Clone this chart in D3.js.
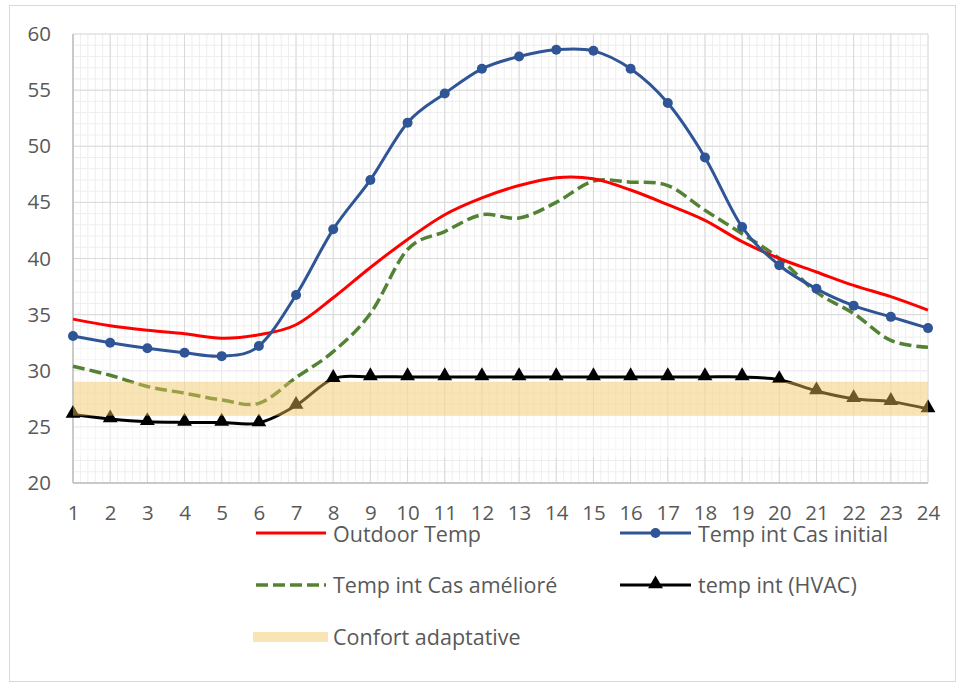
<!DOCTYPE html>
<html>
<head>
<meta charset="utf-8">
<script src="https://d3js.org/d3.v7.min.js"></script>
<style>
  body { margin: 0; background: #fff; }
  svg text { font-family: "Open Sans", Lato, sans-serif; fill: #595959; }
</style>
</head>
<body>
<svg id="chart" width="961" height="689"></svg>
<script>
// hours 1..24
var hours = d3.range(1, 25);
var outdoorTemp = [34.6, 34.0, 33.6, 33.3, 32.9, 33.2, 34.1, 36.5, 39.2, 41.7, 43.9, 45.4, 46.5, 47.2, 47.1, 46.1, 44.8, 43.4, 41.5, 40.0, 38.8, 37.6, 36.6, 35.4];
var casInitial = [33.1, 32.5, 32.0, 31.6, 31.3, 32.2, 36.75, 42.6, 47.0, 52.1, 54.7, 56.9, 58.0, 58.6, 58.5, 56.9, 53.85, 49.0, 42.8, 39.4, 37.3, 35.8, 34.8, 33.8];
var casAmeliore = [30.4, 29.6, 28.6, 28.0, 27.4, 27.1, 29.4, 31.7, 35.1, 40.8, 42.4, 43.9, 43.6, 45.0, 46.9, 46.8, 46.5, 44.3, 42.2, 40.0, 37.0, 35.1, 32.7, 32.1];
var hvac = [26.1, 25.7, 25.45, 25.4, 25.4, 25.35, 26.9, 29.3, 29.45, 29.45, 29.45, 29.45, 29.45, 29.45, 29.45, 29.45, 29.45, 29.45, 29.45, 29.2, 28.2, 27.5, 27.25, 26.6];
var confort = [26, 29];
var yTicks = [20, 25, 30, 35, 40, 45, 50, 55, 60];

var svg = d3.select("#chart");
var pLeft = 73, pRight = 928, pTop = 34, pBottom = 483;

var x = d3.scaleLinear().domain([1, 24]).range([pLeft, pRight]);
var y = d3.scaleLinear().domain([20, 60]).range([pBottom, pTop]);

// outer frame
svg.append("rect").attr("x", 9.5).attr("y", 5.5).attr("width", 946).attr("height", 676)
  .attr("fill", "#fff").attr("stroke", "#d9d9d9");

// minor grid
var g = svg.append("g");
g.selectAll(".vminor").data(d3.range(1, 24.01, 0.2)).enter().append("line")
  .attr("x1", d => x(d)).attr("x2", d => x(d)).attr("y1", pTop).attr("y2", pBottom)
  .attr("stroke", "#eeeeee").attr("stroke-width", 1);
g.selectAll(".hminor").data(d3.range(20, 61, 1)).enter().append("line")
  .attr("x1", pLeft).attr("x2", pRight).attr("y1", d => y(d)).attr("y2", d => y(d))
  .attr("stroke", "#eeeeee").attr("stroke-width", 1);
// major grid
g.selectAll(".vmajor").data(hours).enter().append("line")
  .attr("x1", d => x(d)).attr("x2", d => x(d)).attr("y1", pTop).attr("y2", pBottom)
  .attr("stroke", "#d9d9d9").attr("stroke-width", 1);
g.selectAll(".hmajor").data(yTicks).enter().append("line")
  .attr("x1", pLeft).attr("x2", pRight).attr("y1", d => y(d)).attr("y2", d => y(d))
  .attr("stroke", "#d9d9d9").attr("stroke-width", 1);

// faded zone around comfort band
svg.append("rect").attr("x", pLeft).attr("width", pRight - pLeft)
  .attr("y", y(32.5)).attr("height", y(22.3) - y(32.5))
  .attr("fill", "#fff").attr("opacity", 0.45);

// axis lines
svg.append("line").attr("x1", pLeft).attr("x2", pLeft).attr("y1", pTop).attr("y2", pBottom)
  .attr("stroke", "#bfbfbf").attr("stroke-width", 1.5);
svg.append("line").attr("x1", pLeft).attr("x2", pRight).attr("y1", pBottom).attr("y2", pBottom)
  .attr("stroke", "#bfbfbf").attr("stroke-width", 1.5);

// axes
var yAxis = svg.append("g").attr("transform", "translate(" + pLeft + ",0)")
  .call(d3.axisLeft(y).tickValues(yTicks).tickSize(0).tickPadding(22));
var xAxis = svg.append("g").attr("transform", "translate(0," + pBottom + ")")
  .call(d3.axisBottom(x).tickValues(hours).tickSize(0).tickPadding(22));
[yAxis, xAxis].forEach(function(a) {
  a.select(".domain").remove();
  a.selectAll("text").style("font-size", "20.5px").style("font-family", "'Open Sans', sans-serif").attr("fill", "#595959");
});

var line = d3.line().x((d, i) => x(hours[i])).y(d => y(d)).curve(d3.curveCatmullRom.alpha(0));

// series
svg.append("path").datum(hvac).attr("d", line).attr("fill", "none")
  .attr("stroke", "#000").attr("stroke-width", 3);
svg.selectAll(".tri").data(hvac).enter().append("path")
  .attr("d", d3.symbol().type(d3.symbolTriangle).size(95))
  .attr("transform", (d, i) => "translate(" + x(hours[i]) + "," + (y(d) - 1) + ")")
  .attr("fill", "#000");

svg.append("path").datum(casAmeliore).attr("d", line).attr("fill", "none")
  .attr("stroke", "#548235").attr("stroke-width", 3.5).attr("stroke-dasharray", "12,5");

// comfort band (drawn over the lower lines)
svg.append("rect").attr("x", pLeft).attr("width", pRight - pLeft)
  .attr("y", y(confort[1])).attr("height", y(confort[0]) - y(confort[1]))
  .attr("fill", "#f2c45a").attr("opacity", 0.45);

svg.append("path").datum(outdoorTemp).attr("d", line).attr("fill", "none")
  .attr("stroke", "#ff0000").attr("stroke-width", 3);

svg.append("path").datum(casInitial).attr("d", line).attr("fill", "none")
  .attr("stroke", "#2f5597").attr("stroke-width", 3);
svg.selectAll(".dot").data(casInitial).enter().append("circle")
  .attr("cx", (d, i) => x(hours[i])).attr("cy", d => y(d)).attr("r", 5)
  .attr("fill", "#2f5597");

// legend
var leg = svg.append("g");
function legText(tx, ty, t) {
  leg.append("text").attr("x", tx).attr("y", ty).attr("dy", "0.35em")
    .style("font-size", "21.5px").text(t);
}
leg.append("line").attr("x1", 256).attr("x2", 326).attr("y1", 533).attr("y2", 533)
  .attr("stroke", "#ff0000").attr("stroke-width", 3);
legText(333, 534, "Outdoor  Temp");

leg.append("line").attr("x1", 620).attr("x2", 691).attr("y1", 533).attr("y2", 533)
  .attr("stroke", "#2f5597").attr("stroke-width", 3);
leg.append("circle").attr("cx", 655.5).attr("cy", 533).attr("r", 5).attr("fill", "#2f5597");
legText(698, 534, "Temp int Cas initial");

leg.append("line").attr("x1", 256).attr("x2", 326).attr("y1", 585).attr("y2", 585)
  .attr("stroke", "#548235").attr("stroke-width", 3.5).attr("stroke-dasharray", "12,5");
legText(333, 585, "Temp int Cas amélioré");

leg.append("line").attr("x1", 620).attr("x2", 691).attr("y1", 585).attr("y2", 585)
  .attr("stroke", "#000").attr("stroke-width", 3);
leg.append("path").attr("d", d3.symbol().type(d3.symbolTriangle).size(95))
  .attr("transform", "translate(655.5,584)").attr("fill", "#000");
legText(698, 585, "temp int (HVAC)");

leg.append("rect").attr("x", 253).attr("y", 632).attr("width", 75).attr("height", 10)
  .attr("fill", "#f2c45a").attr("opacity", 0.45);
legText(333, 637, "Confort adaptative");
</script>
</body>
</html>
